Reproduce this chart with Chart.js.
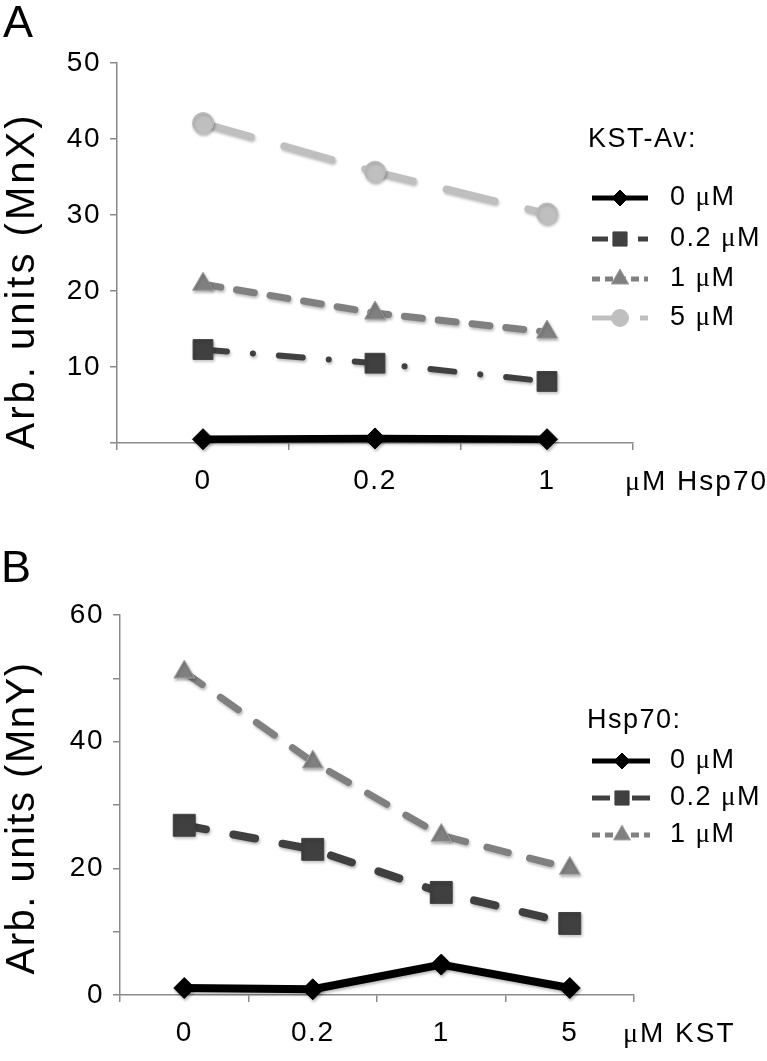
<!DOCTYPE html>
<html>
<head>
<meta charset="utf-8">
<script src="https://cdn.jsdelivr.net/npm/chart.js@4.4.1/dist/chart.umd.min.js"></script>
<style>
html,body{margin:0;padding:0;background:#fff;}
body{width:767px;height:1061px;position:relative;overflow:hidden;}
canvas{position:absolute;left:0;}
#ca{top:0;}
#cb{top:530px;}
.lbl{position:absolute;font-family:"Liberation Sans",Arial,sans-serif;color:#000;white-space:nowrap;line-height:1;}
.mu{font-family:"Liberation Serif","DejaVu Serif",serif;}
.ytitle{position:absolute;font-family:"Liberation Sans",Arial,sans-serif;color:#000;white-space:nowrap;line-height:1;font-size:40px;transform:translate(-50%,-50%) rotate(-90deg);}
</style>
</head>
<body>
<canvas id="ca" width="767" height="530"></canvas>
<canvas id="cb" width="767" height="531"></canvas>
<div class="lbl" style="left:3px;top:-1px;font-size:45px">A</div>
<div class="lbl" style="left:1px;top:544px;font-size:45px">B</div>
<div class="ytitle" style="left:20px;top:281px;letter-spacing:3px">Arb. units (MnX)</div>
<div class="ytitle" style="left:20px;top:818px;letter-spacing:1.5px">Arb. units (MnY)</div>
<div class="lbl" style="left:625px;top:467px;font-size:28px;letter-spacing:2px"><span class="mu">μ</span>M Hsp70</div>
<div class="lbl" style="left:623px;top:1019px;font-size:28px;letter-spacing:2px"><span class="mu">μ</span>M KST</div>
<script>
// ---------- data ----------
const catsA = ['0', '0.2', '1'];            // μM Hsp70
const labelsA = ['0 μM', '0.2 μM', '1 μM', '5 μM']; // KST-Av
const a0  = [0.5, 0.6, 0.5];
const a02 = [12.3, 10.5, 8.1];
const a1  = [20.9, 17.1, 14.6];
const a5  = [42.1, 35.7, 30.2];
const yTicksA = [10, 20, 30, 40, 50];

const catsB = ['0', '0.2', '1', '5'];       // μM KST
const labelsB = ['0 μM', '0.2 μM', '1 μM']; // Hsp70
const b0  = [1.1, 0.9, 4.8, 1.1];
const b02 = [26.8, 23.0, 16.2, 11.3];
const b1  = [51.0, 36.8, 25.2, 20.0];
const yTicksB = [0, 20, 40, 60];

// ---------- styles ----------
const FONT = '"Liberation Sans", Arial, sans-serif';
const SERIF = '"Liberation Serif", "DejaVu Serif", serif';
const AXC = '#8a8a8a';
const C0 = '#000000', C02 = '#404040', C1 = '#808080', C5 = '#bfbfbf';

const spacing = {
  id: 'spacing',
  beforeDraw(chart) { try { chart.ctx.letterSpacing = '1.5px'; } catch (e) {} }
};

const shadowPlugin = {
  id: 'shadow',
  beforeDatasetsDraw(chart) {
    const c = chart.ctx; c.save();
    c.shadowColor = 'rgba(0,0,0,0.28)'; c.shadowBlur = 3; c.shadowOffsetX = 1; c.shadowOffsetY = 2;
  },
  afterDatasetsDraw(chart) { chart.ctx.restore(); }
};

function drawMixed(ctx, text, x, y, size) {
  // draws text, with the Greek mu in a serif face
  let cx = x;
  for (const part of text.split(/(μ)/)) {
    if (!part) continue;
    ctx.font = size + 'px ' + (part === 'μ' ? SERIF : FONT);
    ctx.fillText(part, cx, y);
    cx += ctx.measureText(part).width;
  }
}

const sideLegend = {
  id: 'sideLegend',
  afterDraw(chart, args, o) {
    const ctx = chart.ctx;
    ctx.save();
    ctx.textBaseline = 'middle';
    ctx.textAlign = 'left';
    ctx.fillStyle = '#000';
    drawMixed(ctx, o.title, o.titleX, o.titleY, o.size);
    chart.data.datasets.forEach((ds, i) => {
      const y = o.rows[i], s = o.samples[i];
      ctx.save();
      ctx.strokeStyle = ds.borderColor;
      ctx.lineWidth = s.w;
      ctx.lineCap = 'butt';
      ctx.setLineDash(s.dash);
      ctx.beginPath(); ctx.moveTo(o.x0, y); ctx.lineTo(o.x1, y); ctx.stroke();
      ctx.restore();
      ctx.save();
      ctx.fillStyle = ds.pointBackgroundColor;
      ctx.strokeStyle = ds.pointBorderColor;
      ctx.lineWidth = 1;
      Chart.helpers.drawPoint(ctx, {pointStyle: ds.pointStyle, radius: s.r, rotation: 0, borderWidth: 1}, o.mx, y);
      ctx.restore();
      ctx.fillStyle = '#000';
      drawMixed(ctx, ds.label, o.textX, y, o.size);
    });
    ctx.restore();
  }
};

function ds(label, data, color, dash, width, style, radius, border) {
  return {
    label, data,
    borderColor: color, borderWidth: width, borderDash: dash, borderCapStyle: 'round', borderJoinStyle: 'round',
    pointStyle: style, pointRadius: radius, pointHoverRadius: radius,
    pointBackgroundColor: color, pointBorderColor: border || color, pointBorderWidth: 1,
    tension: 0, fill: false, clip: false
  };
}

function axes(cats, max, ticksShown, yWidth) {
  return {
    x: {
      type: 'category', labels: cats, offset: true,
      grid: {offset: true, drawOnChartArea: false, drawTicks: true, tickLength: 7, color: AXC, lineWidth: 1.5},
      border: {display: true, color: AXC, width: 1.5},
      ticks: {color: '#000', font: {family: FONT, size: 28}, padding: 14, maxRotation: 0, autoSkip: false},
      afterFit(s) { s.height = 60; }
    },
    y: {
      min: 0, max: max,
      grid: {drawOnChartArea: false, drawTicks: true, tickLength: 7, color: AXC, lineWidth: 1.5},
      border: {display: true, color: AXC, width: 1.5},
      ticks: {stepSize: 10, color: '#000', font: {family: FONT, size: 28}, padding: 9,
              callback: v => ticksShown.includes(v) ? String(v) : ''},
      title: {display: false},
      afterFit(s) { s.width = yWidth; }
    }
  };
}

const common = {
  responsive: false, animation: false, devicePixelRatio: 1,
  events: [],
};

new Chart(document.getElementById('ca'), {
  type: 'line',
  data: {
    labels: catsA,
    datasets: [
      ds(labelsA[0], a0, C0, [], 7.5, 'rectRot', 10.5),
      ds(labelsA[1], a02, C02, [24, 26, 0.1, 26], 6, 'rect', 14),
      ds(labelsA[2], a1, C1, [18, 16], 7, 'triangle', 12, '#9a9a9a'),
      ds(labelsA[3], a5, C5, [50, 34], 7, 'circle', 10.5)
    ]
  },
  options: Object.assign({}, common, {
    layout: {padding: {top: 63, right: 134, bottom: 27, left: 0}},
    scales: axes(catsA, 50, yTicksA, 117),
    plugins: {
      legend: {display: false}, tooltip: {enabled: false},
      sideLegend: {
        title: 'KST-Av:', titleX: 588, titleY: 140, size: 27,
        rows: [198, 239, 279, 318], x0: 592, x1: 648, mx: 620, textX: 670,
        samples: [
          {w: 5, dash: [], r: 8},
          {w: 5, dash: [16, 30, 10], r: 10},
          {w: 5, dash: [8, 5], r: 10},
          {w: 5, dash: [36, 12, 8], r: 8.5}
        ]
      }
    }
  }),
  plugins: [spacing, shadowPlugin, sideLegend]
});

new Chart(document.getElementById('cb'), {
  type: 'line',
  data: {
    labels: catsB,
    datasets: [
      ds(labelsB[0], b0, C0, [], 8, 'rectRot', 10.5),
      ds(labelsB[1], b02, C02, [22, 28], 8, 'rect', 15.5),
      ds(labelsB[2], b1, C1, [22, 22], 7, 'triangle', 12, '#a8a8a8')
    ]
  },
  options: Object.assign({}, common, {
    layout: {padding: {top: 85, right: 133, bottom: 6, left: 0}},
    scales: axes(catsB, 60, yTicksB, 120),
    plugins: {
      legend: {display: false}, tooltip: {enabled: false},
      sideLegend: {
        title: 'Hsp70:', titleX: 587, titleY: 191, size: 27,
        rows: [231, 268, 305], x0: 592, x1: 650, mx: 622, textX: 670,
        samples: [
          {w: 5, dash: [], r: 8},
          {w: 5, dash: [18, 22, 18], r: 10},
          {w: 5, dash: [8, 5], r: 10}
        ]
      }
    }
  }),
  plugins: [spacing, shadowPlugin, sideLegend]
});
</script>
</body>
</html>
